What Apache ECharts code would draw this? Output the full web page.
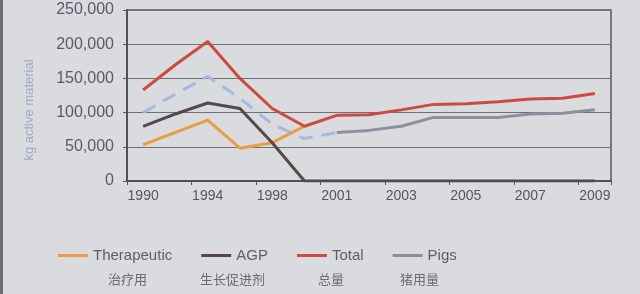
<!DOCTYPE html>
<html><head><meta charset="utf-8">
<script src="https://cdn.jsdelivr.net/npm/echarts@6/dist/echarts.min.js"></script>
<style>html,body{margin:0;padding:0;background:#d9dbde;}#c{width:640px;height:294px;}</style>
</head><body><div id="c"></div>
<script>
var categories = ['1990','1992','1994','1996','1998','2000','2001','2002','2003','2004','2005','2006','2007','2008','2009'];
var therapeutic = [53000, 71000, 89000, 48000, 56000, 80000, null, null, null, null, null, null, null, null, null];
var agp = [80000, 98000, 114000, 106000, 56000, 0, 0, 0, 0, 0, 0, 0, 0, 0, 0];
var total = [133000, 170000, 204000, 150000, 106000, 80000, 96000, 97000, 104000, 112000, 113000, 116000, 120000, 121000, 128000];
var pigsEarly = [100000, 127000, 153000, 121000, 83000, 62000, 71000, null, null, null, null, null, null, null, null];
var pigs = [null, null, null, null, null, null, 71000, 74000, 80000, 93000, 93000, 93000, 98000, 99000, 104000];
var yTicks = [0, 50000, 100000, 150000, 200000, 250000];
var legendNames = ['Therapeutic', 'AGP', 'Total', 'Pigs'];
var chineseLabels = ['治疗用', '生长促进剂', '总量', '猪用量'];
var yAxisTitle = 'kg active material';

var chart = echarts.init(document.getElementById('c'), null, {renderer: 'canvas'});
var labelX = [108, 200, 318, 400];
var graphics = chineseLabels.map(function (t, i) {
  return {type: 'text', left: labelX[i], top: 273, style: {text: t, fill: '#6a6c75', font: '13px "Noto Sans CJK SC"'}};
});
graphics.push({type: 'text', x: 29, y: 110, rotation: Math.PI / 2,
  style: {text: yAxisTitle, fill: '#a3a9c9', font: '13px "Liberation Sans"', align: 'center', verticalAlign: 'middle'}});
graphics.push({type: 'rect', shape: {x: 0, y: 0, width: 3, height: 294}, style: {fill: '#6b6d72'}});

chart.setOption({
  backgroundColor: '#d9dbde',
  animation: false,
  grid: {left: 127, right: 29, top: 10, bottom: 113, show: true, borderColor: '#55575c', borderWidth: 1.5, backgroundColor: 'transparent'},
  legend: {
    data: legendNames, left: 53, top: 243, icon: 'rect', itemWidth: 30, itemHeight: 3, itemGap: 29,
    textStyle: {color: '#5c5e68', fontSize: 15, fontFamily: 'Liberation Sans'}
  },
  xAxis: {
    type: 'category', data: categories, boundaryGap: true,
    axisLine: {lineStyle: {color: '#4f5156', width: 2}},
    axisTick: {show: true, length: 4, lineStyle: {color: '#55575c'}},
    axisLabel: {interval: 1, color: '#55575f', fontSize: 14, fontFamily: 'Liberation Sans', margin: 8},
    splitLine: {show: false}
  },
  yAxis: {
    type: 'value', min: yTicks[0], max: yTicks[yTicks.length - 1], interval: 50000,
    axisLine: {show: true, lineStyle: {color: '#4f5156', width: 2}},
    axisTick: {show: true, length: 4, lineStyle: {color: '#55575c'}},
    axisLabel: {color: '#565a6c', fontSize: 16, fontFamily: 'Liberation Sans', margin: 13,
      formatter: function (v) { return v.toLocaleString('en-US'); }},
    splitLine: {lineStyle: {color: '#6e7075', width: 1.2}}
  },
  series: [
    {name: 'Pigs est', type: 'line', data: pigsEarly, symbol: 'none', connectNulls: false,
      lineStyle: {color: '#a6b9de', width: 3, type: [14, 9]}, itemStyle: {color: '#a6b9de'}, z: 1},
    {name: 'Therapeutic', type: 'line', data: therapeutic, symbol: 'none',
      lineStyle: {color: '#e99e45', width: 3}, itemStyle: {color: '#e99e45'}, z: 2},
    {name: 'AGP', type: 'line', data: agp, symbol: 'none',
      lineStyle: {color: '#554848', width: 3}, itemStyle: {color: '#554848'}, z: 3},
    {name: 'Total', type: 'line', data: total, symbol: 'none',
      lineStyle: {color: '#cc4a3e', width: 3}, itemStyle: {color: '#cc4a3e'}, z: 4},
    {name: 'Pigs', type: 'line', data: pigs, symbol: 'none',
      lineStyle: {color: '#8e8f9e', width: 3}, itemStyle: {color: '#8e8f9e'}, z: 3}
  ],
  graphic: graphics
});
</script></body></html>
